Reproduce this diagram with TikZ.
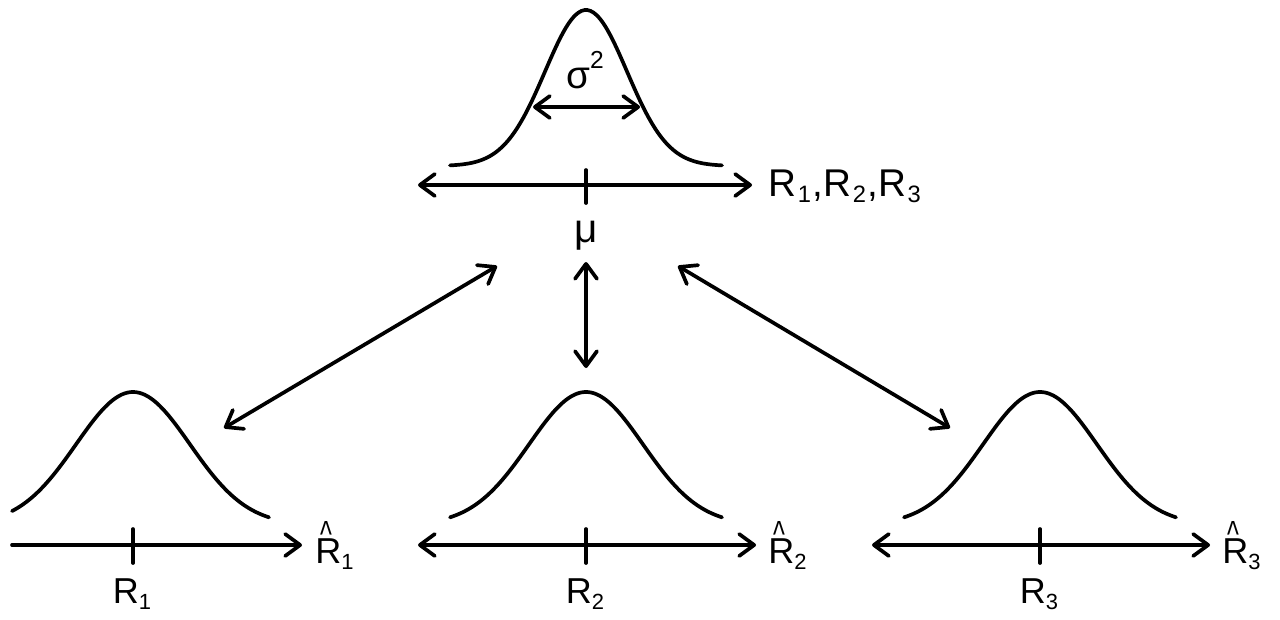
\documentclass[tikz,border=0pt]{standalone}
\usepackage{fontspec}
\usepackage{graphicx}
\setmainfont{Liberation Sans}
\usetikzlibrary{arrows.meta}
\newcommand\sbs[1]{\raisebox{-0.17em}{\fontsize{12.5}{12}\selectfont #1}}
\newcommand\tsbs[1]{\hspace{0.04em}\raisebox{-0.17em}{\fontsize{13.5}{12}\selectfont #1}\hspace{0.04em}}
\newcommand\hatR{\makebox[0pt][l]{\hspace{0.14em}\raisebox{0.44em}{\scalebox{0.7}[1.05]{\textasciicircum}}}R}
\begin{document}
\begin{tikzpicture}[x=0.02cm,y=-0.02cm,
  lw/.style={line width=2.1pt},
  curve/.style={lw,line cap=round},
  axis/.style={lw,line cap=round,{Straight Barb[length=3mm,width=4.4mm,round]}-{Straight Barb[length=3mm,width=4.4mm,round]}},
  raxis/.style={lw,line cap=round,-{Straight Barb[length=3mm,width=4.4mm,round]}},
  tick/.style={lw,line cap=round},
  lab/.style={inner sep=0pt,font=\fontsize{20.5}{22}\selectfont}]
\useasboundingbox (0,0) rectangle (1280,619);
% top distribution
\draw[curve] plot[domain=-136:136,samples=90,smooth] ({586+\x},{166-156*exp(-((\x/10)^2)/33.5)});
\coordinate (tl) at (418,185);
\coordinate (tr) at (752,185);
\draw[axis] (tl) -- (tr);
\coordinate (tt1) at (586,170); \coordinate (tt2) at (586,203);
\draw[tick] (tt1) -- (tt2);
\node[lab,anchor=base west,font=\fontsize{22}{22}\selectfont] (toplab) at (768,196) {R\tsbs1,R\tsbs2,R\tsbs3};
\node[lab,anchor=base,font=\fontsize{23}{22}\selectfont] (mu) at (586,242) {μ};
\coordinate (sl) at (533,107); \coordinate (sr) at (640,107);
\draw[axis] (sl) -- (sr);
\node[lab,anchor=base,font=\fontsize{22}{20}\selectfont] (sig) at (585,88) {σ\raisebox{0.5em}{\fontsize{14}{14}\selectfont 2}};
% bottom distributions
\foreach \c/\i/\lo in {133/1/-121, 586/2/-136, 1040/3/-136}{
  \draw[curve] plot[domain=\lo:136,samples=90,smooth] ({\c+\x},{525-133*exp(-((\x/10)^2)/64.9)});
  \draw[tick] (\c,529) -- (\c,563);
  \node[lab,anchor=base] (R\i) at (\c-1,603) {R\sbs{\i}};
}
\coordinate (a1l) at (12,545); \coordinate (a1r) at (302,545);
\draw[raxis] (a1l) -- (a1r);
\coordinate (a2l) at (418,545); \coordinate (a2r) at (756,545);
\draw[axis] (a2l) -- (a2r);
\coordinate (a3l) at (872,545); \coordinate (a3r) at (1210,545);
\draw[axis] (a3l) -- (a3r);
\node[lab,anchor=base west] (h1) at (315,563) {\hatR\sbs1};
\node[lab,anchor=base west] (h2) at (768,563) {\hatR\sbs2};
\node[lab,anchor=base west] (h3) at (1222,563) {\hatR\sbs3};
% connecting arrows
\coordinate (dl1) at (497,266); \coordinate (dl2) at (224,428);
\coordinate (dm1) at (586,262); \coordinate (dm2) at (586,368);
\coordinate (dr1) at (678,266); \coordinate (dr2) at (950,428);
\draw[axis] (dl1) -- (dl2);
\draw[axis] (dm1) -- (dm2);
\draw[axis] (dr1) -- (dr2);
\end{tikzpicture}
\end{document}
